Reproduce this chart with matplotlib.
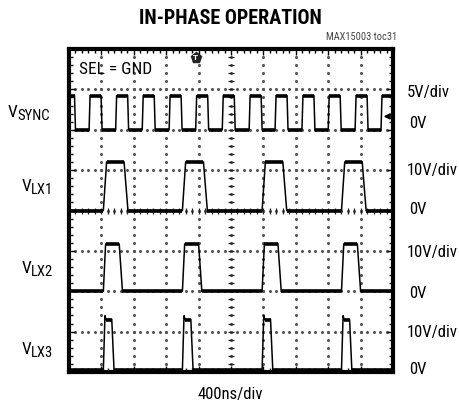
import numpy as np
import matplotlib.pyplot as plt
from matplotlib.ticker import MultipleLocator

NARROW = ['Roboto Condensed', 'Archivo Narrow', 'DejaVu Sans']

# scope settings (divisions: 10 x 8)
channels = ['SYNC', 'LX1', 'LX2', 'LX3']
volts_per_div = [5, 10, 10, 10]
zero_div = [6.0, 4.0, 2.0, 0.05]      # ground level of each trace, in divisions
scale_labels = ['5V/div', '10V/div', '10V/div', '10V/div']

# SYNC square wave: edges in divisions (400ns/div), levels in volts
sync_rise = [-0.20, 0.62, 1.44, 2.26, 3.09, 3.91, 4.73, 5.56, 6.36, 7.19, 8.00, 8.83, 9.63]
sync_fall = [0.20, 1.02, 1.84, 2.66, 3.49, 4.31, 5.13, 5.96, 6.76, 7.59, 8.40, 9.23, 10.03]
sync_high = 4.2

# LX switching nodes, all in phase
lx_rise = [1.06, 3.50, 5.96, 8.41]
lx1_fall = [1.82, 4.27, 6.72, 9.17]
lx2_fall = [1.65, 4.10, 6.55, 9.00]
lx3_fall = [1.39, 3.83, 6.29, 8.73]
lx_high = [12.0, 11.7, 12.5]
lx3_peak = 13.5


def trace(rises, falls, high, t_rise=0.05, t_fall=0.09, peak=None):
    xs, ys = [0.0], [0.0 if rises[0] > 0 else high]
    for r, f in zip(rises, falls):
        top = peak if peak is not None else high
        xs += [r, r + t_rise, r + t_rise + 0.03, f - t_fall, f]
        ys += [0.0, top, high, high, 0.0]
    xs.append(10.0)
    ys.append(0.0 if falls[-1] < 10 else high)
    return np.array(xs), np.array(ys)


fig = plt.figure(figsize=(4.6, 4.09), dpi=100)
ax = fig.add_axes([69 / 460, 37 / 409, 324 / 460, 323 / 409])
ax.set_xlim(0, 10)
ax.set_ylim(0, 8)

# graticule dots
minor = np.arange(0, 8.01, 0.2)
for k in range(1, 10):
    ax.plot(np.full_like(minor, k), minor, ls='', marker='o', ms=1.2, color='#555555', zorder=1)
minor_x = np.arange(0, 10.01, 0.2)
for k in range(1, 8):
    ax.plot(minor_x, np.full_like(minor_x, k), ls='', marker='o', ms=1.2, color='#555555', zorder=1)
# centre axes with small cross ticks
ax.plot(np.full_like(minor, 5), minor, ls='', marker='_', ms=4, mew=0.9, color='#222222', zorder=1)
ax.plot(minor_x, np.full_like(minor_x, 4), ls='', marker='|', ms=4, mew=0.9, color='#222222', zorder=1)

# traces
waves = [
    trace(sync_rise, sync_fall, sync_high, t_rise=0.03, t_fall=0.03),
    trace(lx_rise, lx1_fall, lx_high[0], t_rise=0.10, t_fall=0.12),
    trace(lx_rise, lx2_fall, lx_high[1], t_rise=0.07, t_fall=0.10),
    trace(lx_rise, lx3_fall, lx_high[2], t_rise=0.05, t_fall=0.07, peak=lx3_peak),
]
for (x, v), z, vd in zip(waves, zero_div, volts_per_div):
    y = z + v / vd
    ax.plot(x, y, color='black', lw=1.1, zorder=3, solid_joinstyle='miter')
    flat = np.diff(y) == 0
    for i in np.where(flat)[0]:
        ax.plot(x[i:i + 2], y[i:i + 2], color='black', lw=2.6, zorder=3, solid_capstyle='butt')

# trigger and ground markers
ax.plot(3.91, 7.78, marker='p', ms=8, color='#222222', clip_on=False, zorder=5)
ax.text(3.91, 7.78, 'T', color='white', fontsize=5, fontweight='bold', ha='center', va='center', zorder=6)
ax.annotate('', xy=(9.62, 6.33), xytext=(9.97, 6.33),
            arrowprops=dict(arrowstyle='-|>', color='black', lw=1.3, mutation_scale=8), zorder=5)

# frame
ax.xaxis.set_major_locator(MultipleLocator(1))
ax.yaxis.set_major_locator(MultipleLocator(1))
ax.xaxis.set_minor_locator(MultipleLocator(0.2))
ax.yaxis.set_minor_locator(MultipleLocator(0.2))
ax.tick_params(which='both', direction='in', top=True, right=True,
               labelbottom=False, labelleft=False, color='black')
ax.tick_params(which='major', length=4, width=1)
ax.tick_params(which='minor', length=3, width=1)
for s in ax.spines.values():
    s.set_linewidth(3)


def px(x, y):
    return x / 460, 1 - y / 409


fig.text(*px(230, 19), 'IN-PHASE OPERATION', family=NARROW, fontweight='bold',
         fontsize=14.5, ha='center', va='center')
fig.text(*px(397, 37), 'MAX15003 toc31', family=NARROW, fontsize=7.5,
         color='#444444', ha='right', va='center')
fig.text(*px(79, 70), 'SEL = GND', family=NARROW, fontsize=12.5, ha='left', va='center')
fig.text(*px(230, 395), '400ns/div', family=NARROW, fontsize=12, ha='center', va='center')

# left channel names: V + subscript
name_pos = [(8, 112), (22, 186), (22, 268), (22, 349)]
for name, (x0, y0) in zip(channels, name_pos):
    fig.text(*px(x0, y0 + 5), 'V', family=NARROW, fontsize=12.5, ha='left', va='baseline')
    fig.text(*px(x0 + 9, y0 + 8), name, family=NARROW, fontsize=10.5, ha='left', va='baseline')

# right scale labels
scale_y = [92, 170, 252, 332]
zero_y = [124, 209, 293, 370]
for lab, ys, yz in zip(scale_labels, scale_y, zero_y):
    fig.text(*px(407, ys), lab, family=NARROW, fontsize=12, ha='left', va='center')
    fig.text(*px(409, yz), '0V', family=NARROW, fontsize=12, ha='left', va='center')

fig.savefig('out.png', dpi=100)
